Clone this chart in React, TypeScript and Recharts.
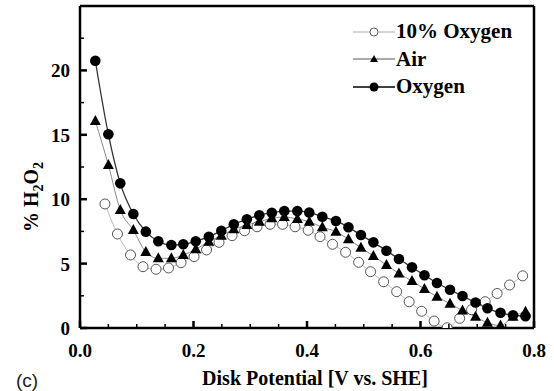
import React from "react";
import { LineChart, Line, XAxis, YAxis, ReferenceLine, Legend, Label } from "recharts";

// disk potential (V vs. SHE) for the filled markers and for the open circles
const potentialFilled = [
    0.027, 0.05, 0.071, 0.094, 0.116, 0.138, 0.161, 0.182, 0.204, 0.227, 0.249, 0.271,
    0.294, 0.316, 0.338, 0.36, 0.383, 0.404, 0.427, 0.451, 0.473, 0.495, 0.517, 0.54,
    0.562, 0.585, 0.607, 0.629, 0.652, 0.674, 0.697, 0.718, 0.741, 0.763, 0.785,
];
const potentialOpen = [
    0.044, 0.066, 0.089, 0.111, 0.134, 0.156, 0.178, 0.201, 0.223, 0.245, 0.268, 0.29,
    0.312, 0.335, 0.357, 0.379, 0.402, 0.423, 0.445, 0.468, 0.491, 0.512, 0.535, 0.558,
    0.58, 0.602, 0.624, 0.647, 0.669, 0.69, 0.714, 0.735, 0.757, 0.78,
];

const oxygenH2O2 = [
    20.75, 15.04, 11.23, 8.85, 7.48, 6.73, 6.44, 6.5, 6.73, 7.09, 7.55, 8.05,
    8.44, 8.75, 8.95, 9.08, 9.08, 8.97, 8.64, 8.31, 7.82, 7.22, 6.65, 6.0,
    5.36, 4.71, 4.09, 3.49, 2.97, 2.48, 1.98, 1.53, 1.18, 0.99, 0.91,
];
const airH2O2 = [
    16.07, 12.66, 9.16, 7.6, 5.9, 5.41, 5.41, 5.67, 6.11, 6.7, 7.17, 7.66,
    8.0, 8.25, 8.52, 8.62, 8.46, 8.25, 7.82, 7.48, 6.89, 6.23, 5.59, 4.89,
    4.24, 3.65, 3.03, 2.43, 1.89, 1.36, 0.88, 0.4, 0.19, 0.88, 1.27,
];
const tenPctH2O2 = [
    9.63, 7.3, 5.67, 4.76, 4.56, 4.66, 5.07, 5.54, 6.06, 6.65, 7.17, 7.55,
    7.86, 8.05, 8.05, 7.86, 7.59, 7.09, 6.5, 5.88, 5.1, 4.37, 3.59, 2.82,
    2.04, 1.3, 0.54, 0.02, 0.75, 1.42, 2.04, 2.68, 3.34, 4.05,
];

const seriesNames = ["10% Oxygen", "Air", "Oxygen"];
const xTicks = [0, 0.05, 0.1, 0.15, 0.2, 0.25, 0.3, 0.35, 0.4, 0.45, 0.5, 0.55, 0.6, 0.65, 0.7, 0.75, 0.8];
const yTicks = [0, 2.5, 5, 7.5, 10, 12.5, 15, 17.5, 20, 22.5];
const xTitle = "Disk Potential [V vs. SHE]";
const panelTag = "(c)";

const SERIF = "'Liberation Serif', 'Times New Roman', serif";

const toPoints = (xs: number[], ys: number[]) => xs.map((x, i) => ({ x, y: ys[i] }));
const tenPctData = toPoints(potentialOpen, tenPctH2O2);
const airData = toPoints(potentialFilled, airH2O2);
const oxygenData = toPoints(potentialFilled, oxygenH2O2);

const XTick = (props: any) => {
    const { x, y, payload } = props;
    const v = payload.value;
    const major = Math.abs(v * 5 - Math.round(v * 5)) < 1e-6;
    return (
        <g>
            <line x1={x} x2={x} y1={y} y2={y - (major ? 7 : 4)} stroke="#000" strokeWidth={major ? 2.5 : 1.5} />
            {major && (
                <text x={x} y={y + 29} textAnchor="middle" fontFamily={SERIF} fontWeight="bold" fontSize={19} fill="#000">
                    {v.toFixed(1)}
                </text>
            )}
        </g>
    );
};

const YTick = (props: any) => {
    const { x, y, payload } = props;
    const v = payload.value;
    const major = v % 5 === 0;
    return (
        <g>
            <line x1={x} x2={x + (major ? 7 : 4)} y1={y} y2={y} stroke="#000" strokeWidth={major ? 2.5 : 1.5} />
            {major && (
                <text x={x - 10} y={y + 7} textAnchor="end" fontFamily={SERIF} fontWeight="bold" fontSize={19} fill="#000">
                    {v}
                </text>
            )}
        </g>
    );
};

const OpenDot = (props: any) => (
    <circle key={`o-${props.index}`} cx={props.cx} cy={props.cy} r={5} fill="#fff" stroke="#555" strokeWidth={1} />
);
const TriangleDot = (props: any) => {
    const { cx, cy } = props;
    return (
        <path key={`t-${props.index}`} d={`M${cx},${cy - 6} L${cx + 5.5},${cy + 4} L${cx - 5.5},${cy + 4} Z`} fill="#000" />
    );
};
const FilledDot = (props: any) => <circle key={`f-${props.index}`} cx={props.cx} cy={props.cy} r={5.3} fill="#000" />;

const legendMarker = (i: number) => {
    if (i === 0) return <circle cx={21} cy={7} r={4} fill="#fff" stroke="#666" strokeWidth={1} />;
    if (i === 1) return <path d="M21,3 L25,10 L17,10 Z" fill="#000" />;
    return <circle cx={21} cy={7} r={4.5} fill="#000" />;
};
const legendLine = ["#aaa", "#555", "#000"];

const renderLegend = () => (
    <div>
        {seriesNames.map((name, i) => (
            <div key={name} style={{ display: "flex", alignItems: "center", height: 27.5 }}>
                <svg width={43} height={14} style={{ display: "block" }}>
                    <line x1={0} x2={42} y1={7} y2={7} stroke={legendLine[i]} strokeWidth={i === 2 ? 1.5 : 1} />
                    {legendMarker(i)}
                </svg>
                <span style={{ fontFamily: SERIF, fontWeight: "bold", fontSize: 21, color: "#000", lineHeight: "21px" }}>
                    {name}
                </span>
            </div>
        ))}
    </div>
);

const renderXTitle = () => (
    <g>
        <text x={315} y={385} textAnchor="middle" fontFamily={SERIF} fontWeight="bold" fontSize={20} fill="#000">
            {xTitle}
        </text>
        <text x={16} y={387} fontFamily="'Liberation Sans', Arial, sans-serif" fontSize={19} fill="#222">
            {panelTag}
        </text>
    </g>
);

const renderYTitle = () => (
    <text
        transform="translate(38,197) rotate(-90)"
        textAnchor="middle"
        fontFamily={SERIF}
        fontWeight="bold"
        fontSize={20}
        fill="#000"
    >
        % H<tspan fontSize={14} dy={5}>2</tspan>
        <tspan dy={-5}>O</tspan>
        <tspan fontSize={14} dy={5}>2</tspan>
    </text>
);

export default function App() {
    return (
        <div style={{ position: "absolute", left: 0, top: 0, background: "#fff" }}>
            <LineChart width={554} height={391} margin={{ top: 6, right: 20, left: 0, bottom: 0 }}>
                <XAxis
                    type="number"
                    dataKey="x"
                    domain={[0, 0.8]}
                    ticks={xTicks}
                    interval={0}
                    tick={XTick}
                    tickLine={false}
                    tickSize={0}
                    tickMargin={0}
                    axisLine={{ stroke: "#000", strokeWidth: 2.5 }}
                    height={63}
                    allowDataOverflow
                >
                    <Label content={renderXTitle} />
                </XAxis>
                <YAxis
                    type="number"
                    domain={[0, 25]}
                    ticks={yTicks}
                    interval={0}
                    tick={YTick}
                    tickLine={false}
                    tickSize={0}
                    tickMargin={0}
                    axisLine={{ stroke: "#000", strokeWidth: 2.5 }}
                    width={80}
                    allowDataOverflow
                >
                    <Label content={renderYTitle} />
                </YAxis>
                <ReferenceLine y={25} stroke="#000" strokeWidth={2.5} />
                <ReferenceLine x={0.8} stroke="#000" strokeWidth={2.5} />
                <Legend
                    layout="vertical"
                    align="center"
                    verticalAlign="middle"
                    content={renderLegend}
                    wrapperStyle={{ left: 353, top: 18, width: 190 }}
                />
                <Line
                    data={tenPctData}
                    dataKey="y"
                    name={seriesNames[0]}
                    type="monotone"
                    stroke="#bbb"
                    strokeWidth={1}
                    dot={OpenDot}
                    activeDot={false}
                    isAnimationActive={false}
                />
                <Line
                    data={airData}
                    dataKey="y"
                    name={seriesNames[1]}
                    type="monotone"
                    stroke="#888"
                    strokeWidth={1}
                    dot={TriangleDot}
                    activeDot={false}
                    isAnimationActive={false}
                />
                <Line
                    data={oxygenData}
                    dataKey="y"
                    name={seriesNames[2]}
                    type="monotone"
                    stroke="#333"
                    strokeWidth={1.3}
                    dot={FilledDot}
                    activeDot={false}
                    isAnimationActive={false}
                />
            </LineChart>
        </div>
    );
}
